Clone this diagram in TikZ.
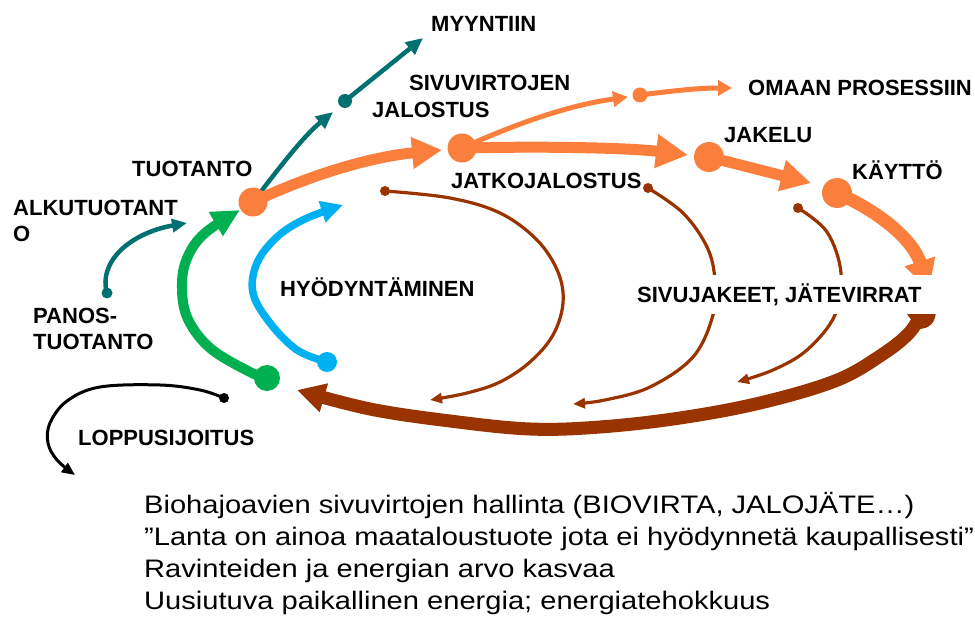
\documentclass[tikz,border=0pt]{standalone}
\usepackage{fontspec}
\setmainfont{Liberation Sans}
\newfontfamily\bodyfont[FakeStretch=1.15]{Liberation Sans}
\usetikzlibrary{arrows.meta}
\definecolor{orng}{RGB}{250,126,60}
\definecolor{tealc}{RGB}{0,112,112}
\definecolor{grn}{RGB}{0,176,80}
\definecolor{blu}{RGB}{0,176,240}
\definecolor{brn}{RGB}{153,51,0}
\begin{document}
\begin{tikzpicture}[x=1pt,y=-1pt,
  dot/.style={circle,inner sep=0pt,draw=none,minimum size=#1},
  lbl/.style={font=\bfseries\fontsize{22}{24}\selectfont,anchor=base west,inner sep=0pt},
  bodytxt/.style={font=\bodyfont\fontsize{25.3}{30}\selectfont,anchor=base west,inner sep=0pt},
  brthin/.style={draw=brn,line width=3.2pt,line cap=round,-{Triangle[length=12pt,width=10pt]}},
  tealline/.style={draw=tealc,line width=4.5pt,-{Triangle[length=17pt,width=15pt]}},
  orthick/.style={draw=orng,line width=11pt,-{Triangle[length=30pt,width=30pt]}},
  orthin/.style={draw=orng,line width=5pt,-{Triangle[length=15pt,width=15pt]}}]
\useasboundingbox (0,0) rectangle (975,620);

% ---- free arrow ends
\coordinate (tAlk) at (187,223);
\coordinate (tMyyA) at (333,112);
\coordinate (tMyyB) at (423,38);
\coordinate (tJal) at (442,150);
\coordinate (tOmaA) at (628,97);
\coordinate (tOmaB) at (732,88);
\coordinate (tJak) at (688,155);
\coordinate (tKay) at (811,183);
\coordinate (tSiv) at (929,290);
\coordinate (tGrn) at (240,210);
\coordinate (tBlu) at (343,205);
\coordinate (tBr) at (297,390);
\coordinate (sBr) at (925,306);
\coordinate (tLop) at (75,475);
\coordinate (tA) at (430,400);
\coordinate (tB) at (573,404);
\coordinate (tC) at (737,382);

% ---- dots
\path
  (253,202) node[dot=29pt] (tuo) {}
  (462,148) node[dot=29pt] (jal) {}
  (709,157) node[dot=30pt] (jak) {}
  (837,193) node[dot=30pt] (kay) {}
  (640,95)  node[dot=15pt] (oma) {}
  (345,101) node[dot=14pt] (myy) {}
  (107,293) node[dot=11pt] (pan) {}
  (267,378) node[dot=26pt] (grd) {}
  (327,362) node[dot=20pt] (bld) {}
  (224,398) node[dot=10pt] (lop) {}
  (385,191) node[dot=10pt] (bra) {}
  (648,188) node[dot=10pt] (brb) {}
  (798,208) node[dot=10pt] (brc) {};

% ---- connectors
\draw[tealline,-{Triangle[length=15pt,width=13pt]}] (pan.center) .. controls (98,262) and (130,233) .. (tAlk);
\draw[tealline] (tuo.center) .. controls (285,160) and (305,135) .. (tMyyA);
\draw[tealline] (myy.center) -- (tMyyB);

\draw[brthin] plot[smooth,tension=0.6] coordinates {(bra.center) (450,198) (500,213) (537,240) (558,272) (563,303) (553,335) (530,362) (500,382) (467,393) (tA)};
\draw[brthin] plot[smooth,tension=0.6] coordinates {(brb.center) (683,213) (707,247) (715,280) (713,315) (693,357) (650,387) (605,400) (tB)};
\draw[brthin] plot[smooth,tension=0.6] coordinates {(brc.center) (827,232) (841,273) (835,315) (807,350) (773,370) (tC)};

\draw[draw=black,line width=3pt,-{Triangle[length=13pt,width=11pt]}] plot[smooth,tension=0.6] coordinates {(lop.center) (200,390) (160,385) (100,387) (67,401) (50,423) (48,443) (57,460) (tLop)};

\draw[draw=grn,line width=10pt,-{Triangle[length=28pt,width=26pt]}] plot[smooth,tension=0.6] coordinates {(grd.center) (250,372) (210,348) (187,317) (182,283) (188,256) (205,233) (tGrn)};
\draw[draw=blu,line width=7.5pt,-{Triangle[length=22pt,width=21pt]}] plot[smooth,tension=0.6] coordinates {(bld.center) (297,350) (270,323) (253,293) (257,263) (277,237) (305,219) (tBlu)};

\draw[orthick] (tuo.center) .. controls (310,175) and (370,157) .. (tJal);
\draw[orthin] (jal.center) .. controls (520,122) and (570,105) .. (tOmaA);
\draw[orthin,-{Triangle[length=14pt,width=15pt]}] (oma.center) .. controls (680,90) and (700,88) .. (tOmaB);
\draw[orthick,-{Triangle[length=32pt,width=32pt]}] (jal.center) .. controls (550,146) and (630,148) .. (tJak);
\draw[orthick] (jak.center) -- (tKay);
\draw[orthick,line width=13pt] (kay.center) .. controls (880,212) and (913,240) .. (tSiv);

\fill[brn] (904,310) -- (936,310) .. controls (936,322) and (930,329) .. (918,329) -- cycle;
\draw[draw=brn,line width=13pt,-{Triangle[length=28pt,width=28pt]}] plot[smooth,tension=0.6] coordinates {(sBr) (910,332) (880,356) (835,381) (760,403) (680,418) (600,427) (530,429) (450,421) (370,409) (tBr)};

% ---- dots drawn on top
\foreach \n/\c/\r in {tuo/orng/14.5,jal/orng/14.5,jak/orng/15,kay/orng/15,oma/orng/7.5,myy/tealc/7,pan/tealc/5.5,grd/grn/13,bld/blu/10,lop/black/5,bra/brn/5,brb/brn/5,brc/brn/5}
  \fill[\c] (\n.center) circle (\r);

% ---- labels
\fill[white] (630,275) rectangle (940,314);
\node[lbl] (lsiv) at (637,303) {SIVUJAKEET, JÄTEVIRRAT};
\node[lbl] (lmyy) at (431,32) {MYYNTIIN};
\node[lbl] (lsv1) at (409,91) {SIVUVIRTOJEN};
\node[lbl] (lsv2) at (372,118) {JALOSTUS};
\node[lbl] (loma) at (748,96) {OMAAN PROSESSIIN};
\node[lbl] (ljak) at (724,143) {JAKELU};
\node[lbl] (ltuo) at (132,177) {TUOTANTO};
\node[lbl] (lkay) at (852,180) {KÄYTTÖ};
\node[lbl] (ljat) at (451,189) {JATKOJALOSTUS};
\node[lbl] (lalk1) at (13,216) {ALKUTUOTANT};
\node[lbl] (lalk2) at (13,242) {O};
\node[lbl] (lhyo) at (280,297) {HYÖDYNTÄMINEN};
\node[lbl] (lpan1) at (33,324) {PANOS-};
\node[lbl] (lpan2) at (33,350) {TUOTANTO};
\node[lbl] (llop) at (78,445) {LOPPUSIJOITUS};

\node[bodytxt] (b1) at (144,513) {Biohajoavien sivuvirtojen hallinta (BIOVIRTA, JALOJÄTE…)};
\node[bodytxt] (b2) at (144,545) {”Lanta on ainoa maataloustuote jota ei hyödynnetä kaupallisesti”};
\node[bodytxt] (b3) at (144,577) {Ravinteiden ja energian arvo kasvaa};
\node[bodytxt] (b4) at (144,609) {Uusiutuva paikallinen energia; energiatehokkuus};
\end{tikzpicture}
\end{document}
